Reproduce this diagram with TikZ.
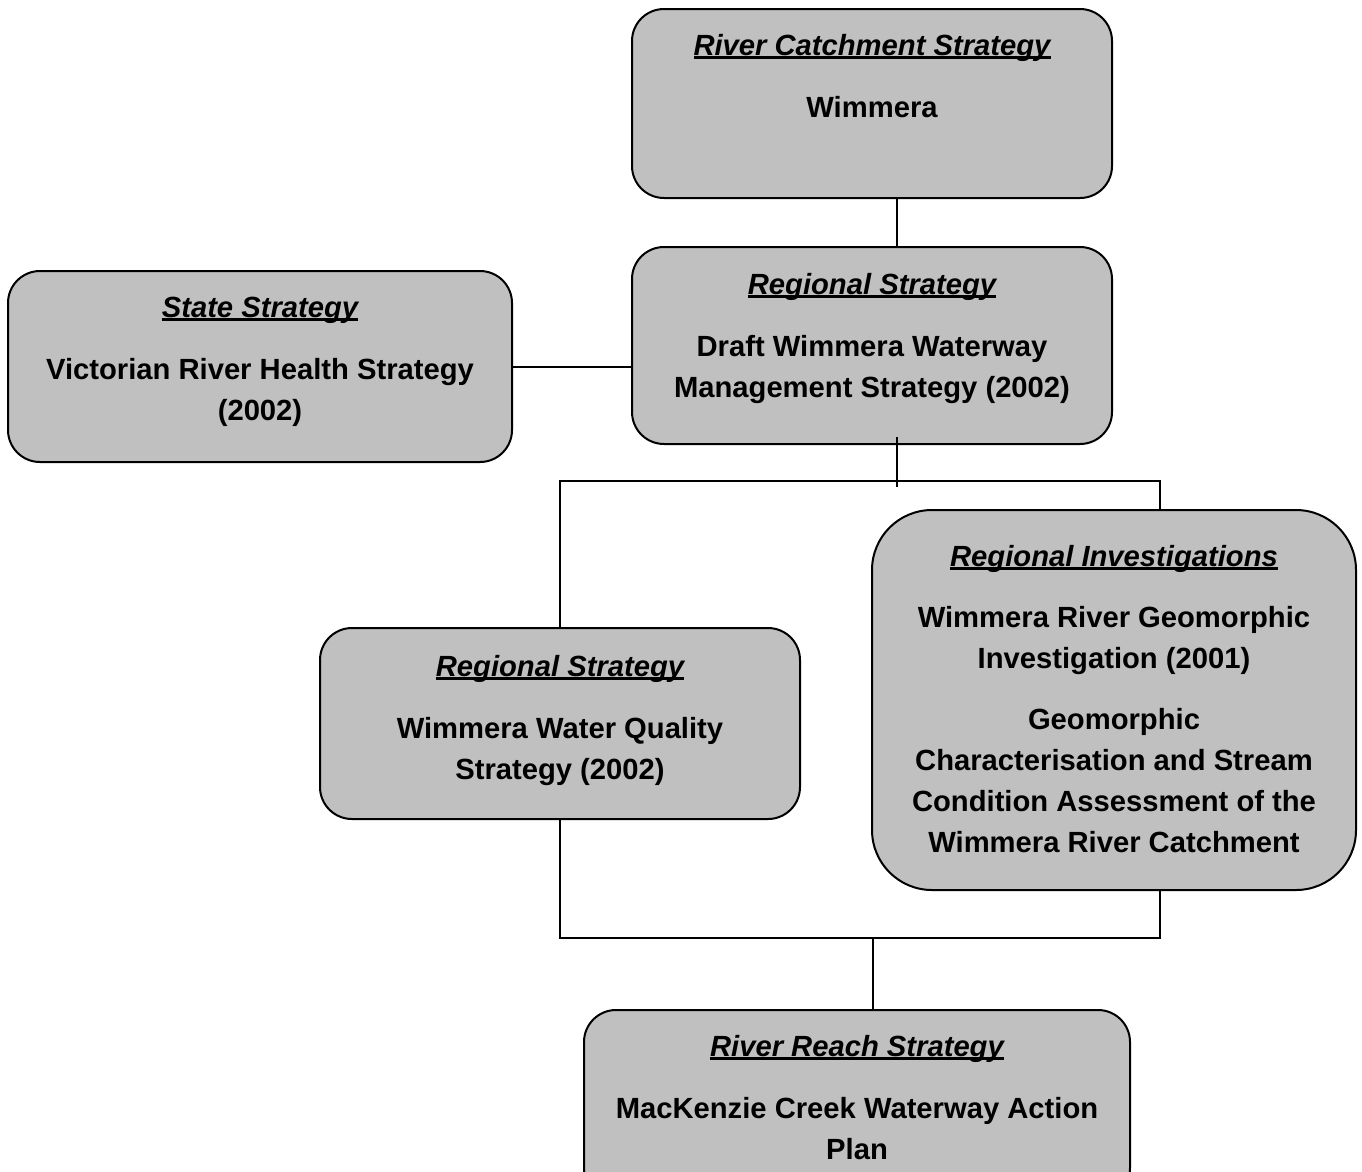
\documentclass[tikz,border=0pt]{standalone}
\usepackage{fontspec}
\setmainfont{Liberation Sans}
\usepackage{tikz}
\usetikzlibrary{positioning}
\definecolor{boxgray}{RGB}{192,192,192}
\newcommand{\boxtitle}[1]{\setbox0\hbox{\itshape #1}\rlap{\rule[-0.12em]{\wd0}{0.095em}}\box0}

\begin{document}
\begin{tikzpicture}[x=1pt,y=-1pt,line width=2pt,
  stratbox/.style={draw,fill=boxgray,rounded corners=32pt,inner sep=0pt},
  stratext/.style={inner sep=0pt,align=center,font=\fontsize{29.2}{41}\selectfont\bfseries}]
  \clip (0,0) rectangle (1362,1171);

  % boxes
  \node[stratbox,minimum width=480pt,minimum height=189pt] (catch) at (872,103.5) {};
  \node[stratbox,minimum width=480pt,minimum height=197pt] (regional) at (872,345.5) {};
  \node[stratbox,minimum width=504pt,minimum height=191pt] (state) at (260,366.5) {};
  \node[stratbox,minimum width=480pt,minimum height=191pt] (quality) at (560,723.5) {};
  \node[stratbox,rounded corners=60pt,minimum width=484pt,minimum height=380pt] (invest) at (1114,700) {};
  \node[stratbox,minimum width=546pt,minimum height=190pt] (reach) at (857,1105) {};

  % texts
  \node[stratext,below=25pt of catch.north] (catch-txt)
    {\boxtitle{River Catchment Strategy}\\[21pt] Wimmera};
  \node[stratext,below=26pt of regional.north] (regional-txt)
    {\boxtitle{Regional Strategy}\\[21pt] Draft Wimmera Waterway\\ Management Strategy (2002)};
  \node[stratext,below=26pt of state.north] (state-txt)
    {\boxtitle{State Strategy}\\[21pt] Victorian River Health Strategy\\ (2002)};
  \node[stratext,below=27pt of quality.north] (quality-txt)
    {\boxtitle{Regional Strategy}\\[21pt] Wimmera Water Quality\\ Strategy (2002)};
  \node[stratext,below=35pt of invest.north] (invest-txt)
    {\boxtitle{Regional Investigations}\\[20pt] Wimmera River Geomorphic\\ Investigation (2001)\\[20pt]
     Geomorphic\\ Characterisation and Stream\\ Condition Assessment of the\\ Wimmera River Catchment};
  \node[stratext,below=25pt of reach.north] (reach-txt)
    {\boxtitle{River Reach Strategy}\\[21pt] MacKenzie Creek Waterway Action\\ Plan};

  % connectors
  \coordinate (topbus) at (0,481);
  \coordinate (lowbus) at (0,938);
  \draw ([xshift=25pt]catch.south) -- ([xshift=25pt]regional.north);
  \draw (state.east) -- (state.east -| regional.west);
  \draw ([shift={(25pt,8pt)}]regional.south) -- ++(0,-50pt);
  \draw (quality.north) -- (quality.north |- topbus)
    -- ([xshift=46pt]invest.north |- topbus) -- ([xshift=46pt]invest.north);
  \draw (quality.south) -- (quality.south |- lowbus)
    -- ([xshift=46pt]invest.south |- lowbus) -- ([xshift=46pt]invest.south);
  \draw ([xshift=16pt]reach.north) -- ([xshift=16pt]reach.north |- lowbus);
\end{tikzpicture}
\end{document}
